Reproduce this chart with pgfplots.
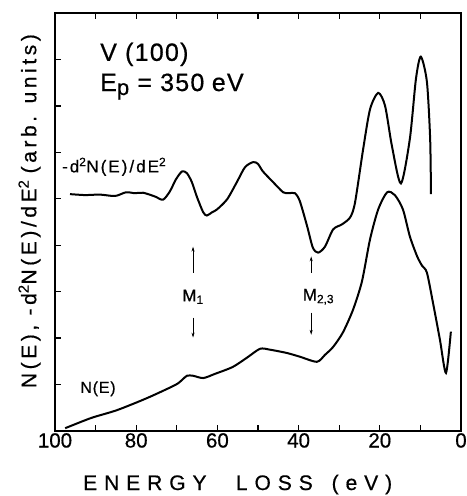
\documentclass[border=0pt]{standalone}
\usepackage{fontspec}
\setmainfont{Liberation Sans}[FakeBold=0.6]
\newfontfamily\spaced[LetterSpace=17,FakeBold=0.6]{Liberation Sans}
\newfontfamily\wide[LetterSpace=33,FakeBold=0.6]{Liberation Sans}
\newfontfamily\lightspaced[LetterSpace=5,FakeBold=0.6]{Liberation Sans}
\newfontfamily\smallspaced[LetterSpace=12,FakeBold=0.6]{Liberation Sans}
\usepackage{pgfplots}
\pgfplotsset{compat=1.18}
\usetikzlibrary{arrows.meta}

% -d2N/dE2 (upper curve)
\pgfplotstableread{
x y
96.3 5.10
92.6 5.08
88.9 5.09
85.2 5.06
82.5 5.14
80.3 5.12
78.3 5.13
75.4 5.05
73.4 4.98
71.7 5.16
70.2 5.42
68.7 5.59
67.5 5.55
66.3 5.36
65.0 5.03
63.5 4.71
62.6 4.64
61.3 4.71
60.1 4.77
57.6 4.99
55.2 5.36
53.2 5.68
51.2 5.79
50.0 5.75
48.8 5.59
46.3 5.36
43.8 5.14
42.4 5.12
40.9 5.12
39.7 4.95
37.9 4.41
36.5 3.95
35.2 3.84
33.5 3.97
31.5 4.34
29.3 4.45
27.3 4.60
26.1 4.92
24.1 6.07
22.4 6.93
20.4 7.28
18.7 7.00
17.0 6.13
14.8 5.33
12.6 6.29
11.1 7.58
9.9 8.06
8.4 7.52
7.6 6.29
7.4 5.10
}\deriv

% N(E) (lower curve)
\pgfplotstableread{
x y
97.5 0.06
91.1 0.28
84.7 0.45
77.3 0.71
70.4 0.99
68.7 1.10
67.5 1.19
66.0 1.19
63.5 1.14
60.6 1.23
56.2 1.38
52.7 1.58
49.5 1.77
47.0 1.75
42.9 1.68
39.7 1.60
35.5 1.49
33.5 1.64
31.5 1.81
29.1 2.12
26.6 2.61
24.4 3.22
22.4 4.13
20.4 4.77
18.2 5.14
16.3 5.08
14.3 4.77
12.6 4.19
10.8 3.76
9.6 3.56
8.4 3.41
6.9 2.76
5.2 1.97
3.7 1.25
2.5 2.14
}\nofe

\begin{document}
\begin{tikzpicture}
\begin{axis}[
  name=ax,
  scale only axis,
  width=406pt, height=418pt,
  x dir=reverse,
  xmin=0, xmax=100, ymin=0, ymax=9,
  xtick={0,20,...,100},
  minor xtick={10,30,...,90},
  ytick={1,...,8},
  yticklabels={},
  ytick pos=left,
  xtick pos=both,
  tick align=inside,
  major tick length=6pt,
  minor tick length=6pt,
  every tick/.style={line width=1.3pt, black},
  axis line style={line width=2pt},
  /pgf/number format/assume math mode=true,
  ticklabel style={font=\fontsize{20.5}{22}\selectfont},
  xticklabel style={inner sep=1pt, yshift=-1pt},
  xlabel={\wide ENERGY\hspace{1.4em}LOSS\hspace{0.9em}(eV)},
  xlabel style={font=\fontsize{21}{23}\selectfont, at={(axis description cs:0.45,0)}, anchor=base, yshift=-59pt},
  ylabel={\spaced N(E), -d\textsuperscript{2}N(E)/dE\textsuperscript{2}\hspace{0.3em}(arb. units)},
  ylabel style={font=\fontsize{21}{23}\selectfont, at={(axis description cs:-0.035,0.526)}, anchor=south, inner sep=0pt},
  clip=false,
]
\addplot[black, line width=2pt, smooth, tension=0.45] table {\deriv};
\addplot[black, line width=2pt, smooth, tension=0.45] table {\nofe};

\node[anchor=base west, font=\fontsize{25}{27}\selectfont\lightspaced, inner sep=0pt] at (axis cs:88.9,7.97) {V (100)};
\node[anchor=base west, font=\fontsize{25}{27}\selectfont\lightspaced, inner sep=0pt] at (axis cs:88.9,7.32) {E\raisebox{-0.3ex}{\fontsize{22}{24}\selectfont p} = 350\hspace{0.3em}eV};
\node[anchor=base west, font=\fontsize{17}{19}\selectfont\smallspaced, inner sep=0pt] at (axis cs:98.3,5.57) {-d\textsuperscript{2}N(E)/dE\textsuperscript{2}};
\node[anchor=base west, font=\fontsize{16}{18}\selectfont\lightspaced, inner sep=0pt] at (axis cs:93.8,0.82) {N(E)};

% transition markers
\draw[line width=0.8pt, -{Stealth[length=5pt,width=3pt]}] (axis cs:66.0,3.41) -- (axis cs:66.0,3.97);
\draw[line width=0.8pt, -{Stealth[length=5pt,width=3pt]}] (axis cs:66.0,2.44) -- (axis cs:66.0,2.01);
\node[font=\fontsize{17}{19}\selectfont] at (axis cs:66.0,2.89) {M\textsubscript{1}};
\draw[line width=0.8pt, -{Stealth[length=5pt,width=3pt]}] (axis cs:36.9,3.41) -- (axis cs:36.9,3.76);
\draw[line width=0.8pt, -{Stealth[length=5pt,width=3pt]}] (axis cs:36.9,2.55) -- (axis cs:36.9,2.07);
\node[font=\fontsize{17}{19}\selectfont, anchor=west, inner sep=0pt] at (axis cs:39.0,2.89) {M\textsubscript{2,3}};
\end{axis}
\pgfresetboundingbox
\useasboundingbox ([shift={(-55pt,-65pt)}]ax.south west) rectangle ([shift={(5pt,13pt)}]ax.north east);
\end{tikzpicture}
\end{document}
